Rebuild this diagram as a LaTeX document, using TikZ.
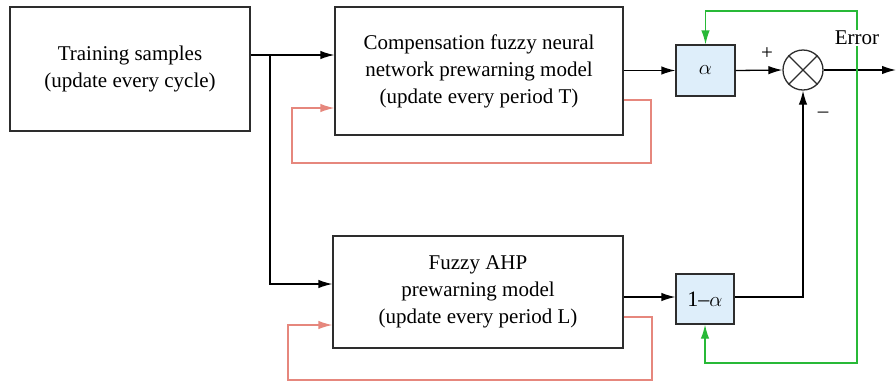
\documentclass[tikz,border=0pt]{standalone}
\usepackage{fontspec}
\setmainfont{Liberation Serif}
\usetikzlibrary{arrows.meta,calc}
\definecolor{fbred}{RGB}{230,135,125}
\definecolor{fbgreen}{RGB}{40,185,55}
\definecolor{boxblue}{RGB}{222,238,250}
\definecolor{edge}{RGB}{45,45,45}
\begin{document}
\begin{tikzpicture}[x=1pt,y=-1pt,
  blk/.style={draw=edge,line width=1.3pt,rectangle,inner sep=0pt,align=center,
    font=\fontsize{21}{27}\selectfont},
  gain/.style={draw=edge,line width=1.3pt,fill=boxblue,rectangle,inner sep=0pt,
    font=\fontsize{22}{25}\selectfont},
  conn/.style={line width=1.3pt,draw=black,-{Latex[length=14pt,width=8.5pt]}},
  line/.style={line width=1.3pt,draw=black},
  redfb/.style={line width=1.3pt,draw=fbred,-{Latex[length=14pt,width=8.5pt]}},
  greenfb/.style={line width=1.3pt,draw=fbgreen,-{Latex[length=14pt,width=8.5pt]}},
  lbl/.style={inner sep=1pt,font=\fontsize{21}{25}\selectfont}
]
\useasboundingbox (0,0) rectangle (896,384);

\node[blk,minimum width=240pt,minimum height=124pt] (train) at (130,69)
  {Training samples\\(update every cycle)};
\node[blk,minimum width=288pt,minimum height=128pt] (comp) at (479,71)
  {Compensation fuzzy neural\\network prewarning model\\(update every period T)};
\node[blk,minimum width=290pt,minimum height=112pt] (fahp) at (478,292)
  {Fuzzy AHP\\prewarning model\\(update every period L)};
\node[gain,minimum width=59pt,minimum height=51pt] (alpha) at (705.5,70.5) {$\alpha$};
\node[gain,minimum width=58pt,minimum height=50pt] (oma) at (705,299) {1\textendash$\alpha$};
\node[draw=edge,line width=1.3pt,circle,minimum size=40pt,inner sep=0pt] (sum) at (803,70) {};
\draw[line width=1.2pt,edge] (sum.45) -- (sum.225) (sum.135) -- (sum.315);

\node[lbl] (err) at (857,38) {Error};
\node[lbl] (plus) at (767,54) {+};
\node[lbl] (minus) at (823,115) {\textendash};

\coordinate (j) at (270,55);
\coordinate (out) at (896,70);

% main signal path
\draw[line] (train.east |- j) -- (j);
\draw[conn] (j) -- (comp.west |- j);
\draw[conn] (j) |- (fahp.west |- 0,284);
\draw[conn] (comp.east |- alpha) -- (alpha.west);
\draw[conn] (alpha.east) -- (sum.west);
\draw[conn] (sum.east) -- (out);
\draw[conn] (fahp.east |- 0,297) -- (oma.west |- 0,297);
\draw[conn] (oma.east |- 0,297) -| (sum.south);

% red feedback loops
\draw[redfb] (comp.east |- 0,100) -- (651,100) -- (651,163) -- (292,163) -- (292,108) -- (comp.west |- 0,108);
\draw[redfb] (fahp.east |- 0,317) -- (652,317) -- (652,380) -- (288,380) -- (288,325) -- (fahp.west |- 0,325);

% green error feedback
\draw[greenfb] (err.north) -- (857,11) -| (alpha.north);
\draw[greenfb] (err.south) -- (857,363) -| (oma.south);
\end{tikzpicture}
\end{document}
